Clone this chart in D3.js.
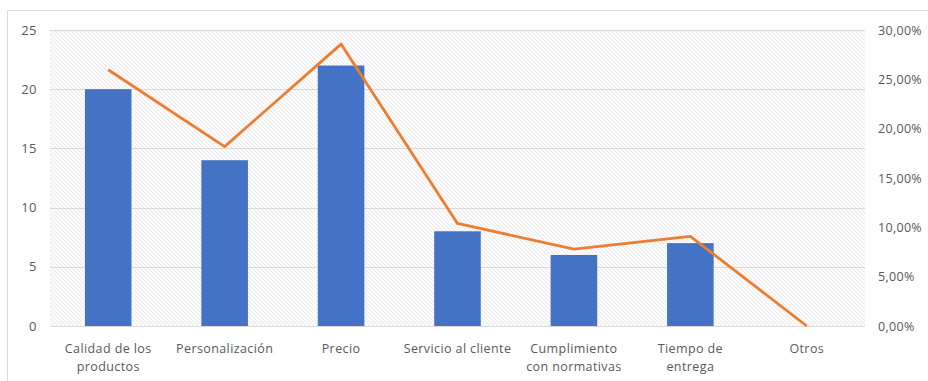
<!DOCTYPE html>
<html>
<head>
<meta charset="utf-8">
<script src="https://cdn.jsdelivr.net/npm/d3@7"></script>
<style>
  html, body { margin: 0; padding: 0; background: #fff; }
  svg { display: block; }
  text { font-family: "Open Sans", "Noto Sans", sans-serif; fill: #595959; }
</style>
</head>
<body>
<svg id="chart" width="928" height="381"></svg>
<script>
// Categories and counts
const categories = [
  ["Calidad de los", "productos"],
  ["Personalización"],
  ["Precio"],
  ["Servicio al cliente"],
  ["Cumplimiento", "con normativas"],
  ["Tiempo de", "entrega"],
  ["Otros"]
];
const counts = [20, 14, 22, 8, 6, 7, 0];
const leftTicks = [0, 5, 10, 15, 20, 25];
const rightTicks = [0, 0.05, 0.10, 0.15, 0.20, 0.25, 0.30];

// Share of each category in the total
const total = d3.sum(counts);
const shares = counts.map(v => v / total);

const svg = d3.select("#chart");
const W = 928, H = 381;
const plot = { left: 50, right: 865, top: 30, bottom: 326 };

// Outer frame
svg.append("rect")
  .attr("x", 7.5).attr("y", 10.5)
  .attr("width", W).attr("height", H)
  .attr("fill", "#fff").attr("stroke", "#d9d9d9");

// Diagonal hatch fill behind the plot area
const defs = svg.append("defs");
const pat = defs.append("pattern")
  .attr("id", "hatch")
  .attr("patternUnits", "userSpaceOnUse")
  .attr("width", 4).attr("height", 4);
pat.append("rect").attr("width", 4).attr("height", 4).attr("fill", "#fbfbfb");
pat.append("path")
  .attr("d", "M-1,-1 L5,5 M3,-1 L5,1 M-1,3 L1,5")
  .attr("stroke", "#e6e6e6").attr("stroke-width", 0.8);

svg.append("rect")
  .attr("x", plot.left).attr("y", plot.top)
  .attr("width", plot.right - plot.left).attr("height", plot.bottom - plot.top)
  .attr("fill", "url(#hatch)");

const x = d3.scaleBand()
  .domain(d3.range(categories.length))
  .range([plot.left, plot.right])
  .paddingInner(0.6).paddingOuter(0.3);

const xc = i => x(i) + x.bandwidth() / 2;

const yL = d3.scaleLinear().domain([0, 25]).range([plot.bottom, plot.top]);
const yR = d3.scaleLinear().domain([0, 0.30]).range([plot.bottom, plot.top]);

// Gridlines
svg.append("g")
  .selectAll("line")
  .data(leftTicks)
  .join("line")
  .attr("x1", plot.left).attr("x2", plot.right)
  .attr("y1", d => Math.round(yL(d)) + 0.5)
  .attr("y2", d => Math.round(yL(d)) + 0.5)
  .attr("stroke", "#d9d9d9")
  .attr("stroke-width", 1);

// Left axis
const axisL = d3.axisLeft(yL).tickValues(leftTicks).tickSize(0).tickPadding(0)
  .tickFormat(d3.format("d"));
svg.append("g")
  .attr("transform", `translate(${37},0)`)
  .call(axisL)
  .call(g => g.select(".domain").remove())
  .call(g => g.selectAll("text")
    .style("font-family", "'Open Sans', sans-serif")
    .style("font-size", "13px")
    .style("letter-spacing", "0.5px")
    .attr("fill", "#595959"));

// Right axis
const pct = d => d3.format(".2f")(d * 100).replace(".", ",") + "%";
const axisR = d3.axisRight(yR).tickValues(rightTicks).tickSize(0).tickPadding(0)
  .tickFormat(pct);
svg.append("g")
  .attr("transform", `translate(${878},0)`)
  .call(axisR)
  .call(g => g.select(".domain").remove())
  .call(g => g.selectAll("text")
    .style("font-family", "'Open Sans', sans-serif")
    .style("font-size", "12.5px")
    .style("letter-spacing", "0.3px")
    .attr("fill", "#595959"));

// Bars
svg.append("g")
  .selectAll("rect")
  .data(counts)
  .join("rect")
  .attr("x", (d, i) => x(i))
  .attr("y", d => yL(d))
  .attr("width", x.bandwidth())
  .attr("height", d => yL(0) - yL(d))
  .attr("fill", "#4472C4");

// Share line
const line = d3.line()
  .x((d, i) => xc(i))
  .y(d => yR(d));
svg.append("path")
  .datum(shares)
  .attr("d", line)
  .attr("fill", "none")
  .attr("stroke", "#ED7D31")
  .attr("stroke-width", 2.8)
  .attr("stroke-linejoin", "round");

// Category labels
const labels = svg.append("g")
  .selectAll("text")
  .data(categories)
  .join("text")
  .attr("text-anchor", "middle")
  .attr("x", (d, i) => xc(i))
  .attr("y", 353)
  .style("font-size", "12.5px")
  .style("letter-spacing", "0.4px");
labels.selectAll("tspan")
  .data(d => d)
  .join("tspan")
  .attr("x", function () { return d3.select(this.parentNode).attr("x"); })
  .attr("dy", (d, j) => j === 0 ? 0 : 18)
  .text(d => d);
</script>
</body>
</html>
